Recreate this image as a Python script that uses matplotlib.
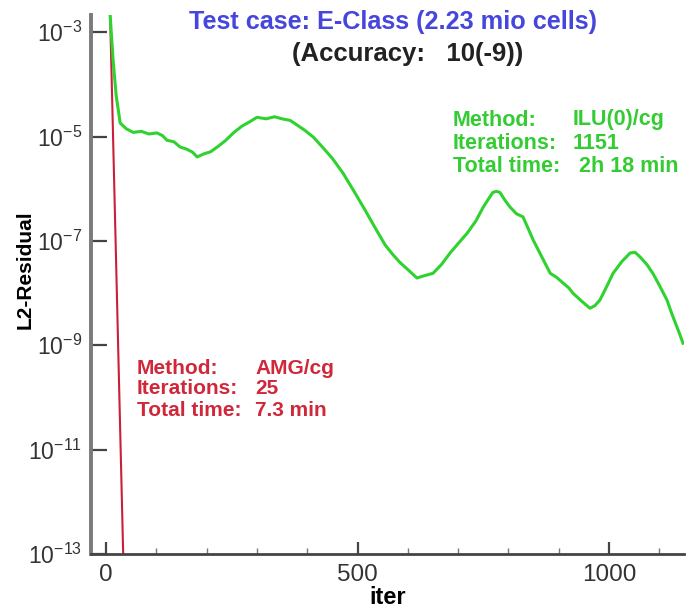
import numpy as np
import matplotlib
matplotlib.use("Agg")
import matplotlib.pyplot as plt
from matplotlib.ticker import FixedLocator, MultipleLocator, NullLocator

# ILU(0)/cg residual history (iter, log10 residual)
ilu_iter = [8, 14, 20, 28, 40, 54, 70, 85, 101, 112, 121, 135, 147, 160, 172, 181,
            195, 208, 221, 237, 253, 270, 285, 300, 318, 335, 350, 366, 380, 395,
            412, 430, 450, 471, 493, 515, 535, 555, 570, 584, 600, 618, 635, 650,
            667, 684, 700, 718, 735, 750, 760, 769, 776, 783, 793, 803, 816, 829,
            840, 849, 866, 883, 896, 909, 920, 928, 945, 962, 972, 982, 995, 1008,
            1025, 1042, 1052, 1062, 1075, 1087, 1100, 1115, 1125, 1135, 1141, 1147]
ilu_log = [-2.67, -3.54, -4.21, -4.74, -4.85, -4.92, -4.90, -4.95, -4.93, -4.98,
           -5.07, -5.10, -5.20, -5.24, -5.30, -5.39, -5.33, -5.29, -5.20, -5.08,
           -4.93, -4.80, -4.72, -4.63, -4.66, -4.62, -4.66, -4.69, -4.78, -4.88,
           -5.01, -5.20, -5.42, -5.70, -6.05, -6.41, -6.75, -7.08, -7.26, -7.41,
           -7.55, -7.71, -7.66, -7.62, -7.45, -7.23, -7.05, -6.85, -6.62, -6.35,
           -6.20, -6.07, -6.05, -6.07, -6.22, -6.35, -6.48, -6.54, -6.78, -6.98,
           -7.30, -7.62, -7.70, -7.81, -7.90, -8.00, -8.15, -8.29, -8.24, -8.13,
           -7.88, -7.62, -7.40, -7.23, -7.22, -7.31, -7.45, -7.62, -7.85, -8.13,
           -8.40, -8.65, -8.80, -8.96]

# AMG/cg residual history
amg_iter = [8, 34, 36]
amg_log = [-2.67, -13.0, -13.4]

ytick_vals = [-13, -11, -9, -7, -5, -3]
xtick_vals = [0, 500, 1000]

fig = plt.figure(figsize=(6.96, 6.10), dpi=100)
W, H = 696, 610
ax = fig.add_axes([91 / W, 1 - 554 / H, (684 - 91) / W, (554 - 15) / H])

ax.plot(amg_iter, [10.0 ** v for v in amg_log], color="#c8203a", lw=1.5)
ax.plot(ilu_iter, [10.0 ** v for v in ilu_log], color="#2fd22f", lw=2.2)

ax.set_yscale("log")
ax.set_xlim(-30, 1149)
ax.set_ylim(1e-13, 10 ** -2.67)

ax.yaxis.set_major_locator(FixedLocator([10.0 ** v for v in ytick_vals]))
ax.yaxis.set_minor_locator(NullLocator())
ax.set_yticklabels([r"$\mathregular{10^{%d}}$" % v for v in ytick_vals])
ax.xaxis.set_major_locator(FixedLocator(xtick_vals))
ax.xaxis.set_minor_locator(MultipleLocator(100))

for s in ("top", "right"):
    ax.spines[s].set_visible(False)
ax.spines["left"].set_color("#7a7a7a")
ax.spines["left"].set_linewidth(2.8)
ax.spines["bottom"].set_color("#444444")
ax.spines["bottom"].set_linewidth(2)

ax.tick_params(axis="y", which="major", direction="in", length=11.5, width=1.6,
               color="#444444", labelsize=16.5, labelcolor="#333333", pad=6.5)
ax.tick_params(axis="x", which="major", direction="in", length=8.6, width=1.6,
               color="#444444", labelsize=17.5, labelcolor="#333333", pad=7)
ax.tick_params(axis="x", which="minor", direction="in", length=4.5, width=1,
               color="#777777")

font = "Liberation Sans"
for lbl in ax.get_xticklabels() + ax.get_yticklabels():
    lbl.set_family(font)

ax.set_xlabel("iter", fontsize=17, fontweight="bold", family=font, labelpad=-2)
ax.xaxis.set_label_coords(0.5, -(597 - 554) / 539)
ax.xaxis.label.set_va("center")
ax.set_ylabel("L2-Residual", fontsize=15, fontweight="bold", family=font)
ax.yaxis.set_label_coords((25 - 91) / 593, (554 - 270) / 539)
ax.yaxis.label.set_va("center")


def px(x, y):
    return x / W, 1 - y / H


fig.text(*px(393, 22), "Test case: E-Class (2.23 mio cells)", color="#4646dc",
         fontsize=18.2, fontweight="bold", family=font, ha="center", va="center")
fig.text(*px(408, 54), "(Accuracy:   10(-9))", color="#222222",
         fontsize=18.5, fontweight="bold", family=font, ha="center", va="center")

green_rows = [("Method:", "ILU(0)/cg"), ("Iterations:", "1151"), ("Total time:", " 2h 18 min")]
for i, (a, b) in enumerate(green_rows):
    y = 120 + i * 23.5
    fig.text(*px(453, y), a, color="#33cc33", fontsize=15.5, fontweight="bold",
             family=font, va="center")
    fig.text(*px(573, y), b, color="#33cc33", fontsize=15.5, fontweight="bold",
             family=font, va="center")

red_rows = [("Method:", "AMG/cg"), ("Iterations:", "25"), ("Total time:", "7.3 min")]
for i, (a, b) in enumerate(red_rows):
    y = 368 + i * 21
    fig.text(*px(137, y), a, color="#d0283a", fontsize=15, fontweight="bold",
             family=font, va="center")
    fig.text(*px(255, y), b, color="#d0283a", fontsize=15, fontweight="bold",
             family=font, va="center")

fig.savefig("out.png", dpi=100)
